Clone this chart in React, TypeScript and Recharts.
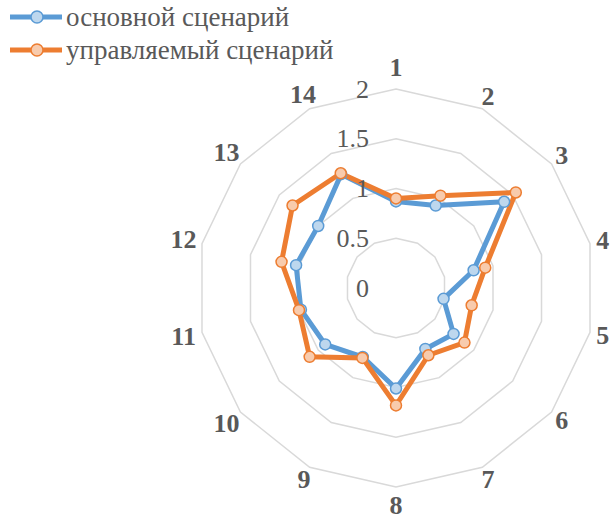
import React from "react";
import {
  RadarChart,
  Radar,
  PolarGrid,
  PolarAngleAxis,
  PolarRadiusAxis,
  Legend,
} from "recharts";

// categories around the circle
const CATEGORIES = ["1", "2", "3", "4", "5", "6", "7", "8", "9", "10", "11", "12", "13", "14"];
// основной сценарий
const BASE = [0.87, 0.92, 1.39, 0.8, 0.49, 0.74, 0.68, 1.01, 0.77, 0.91, 0.98, 1.03, 1.0, 1.27];
// управляемый сценарий
const MANAGED = [0.9, 1.03, 1.54, 0.92, 0.78, 0.88, 0.75, 1.18, 0.78, 1.11, 1.0, 1.18, 1.33, 1.28];
const RADIUS_TICKS = [0, 0.5, 1, 1.5, 2];

const SERIES = [
  { key: "base", name: "основной сценарий", stroke: "#5B9BD5", fill: "#BDD7EE" },
  { key: "managed", name: "управляемый сценарий", stroke: "#ED7D31", fill: "#F8CBAD" },
];

const data = CATEGORIES.map((c, i) => ({ cat: c, base: BASE[i], managed: MANAGED[i] }));

const CX = 396;
const CY = 288;
const R = 199;
const FONT = "Liberation Serif, Times New Roman, DejaVu Serif, serif";
const GRAY = "#595959";

// category labels, pushed out so the box sits just outside the grid
function AngleTick(props: any) {
  const { payload, index } = props;
  const a = (index * 2 * Math.PI) / CATEGORIES.length;
  const s = Math.sin(a);
  const c = Math.cos(a);
  const label = String(payload.value);
  let d = 212;
  if (c > 0.99) d += 9;
  if (c < -0.99) d += 5;
  if (label.length > 1) d += 6 * Math.abs(s);
  return (
    <text
      x={CX + d * s}
      y={CY - d * c}
      textAnchor="middle"
      dominantBaseline="central"
      style={{ fontFamily: FONT, fontSize: 26, fontWeight: "bold", fill: GRAY }}
    >
      {label}
    </text>
  );
}

function RadiusTick(props: any) {
  const { y, payload } = props;
  return (
    <text
      x={CX - 27}
      y={y}
      textAnchor="end"
      dominantBaseline="central"
      style={{ fontFamily: FONT, fontSize: 26, fill: GRAY }}
    >
      {payload.value}
    </text>
  );
}

function LegendBox() {
  return (
    <svg width={360} height={70}>
      {SERIES.map((s, i) => {
        const y = 17 + i * 33;
        return (
          <g key={s.key}>
            <line x1={10} x2={62} y1={y} y2={y} stroke={s.stroke} strokeWidth={5} />
            <circle cx={37} cy={y} r={6} fill={s.fill} stroke={s.stroke} strokeWidth={1.5} />
            <text
              x={66}
              y={y}
              dominantBaseline="central"
              style={{ fontFamily: FONT, fontSize: 27, fill: GRAY }}
            >
              {s.name}
            </text>
          </g>
        );
      })}
    </svg>
  );
}

export default function App() {
  return (
    <div style={{ position: "absolute", left: 0, top: 0, background: "#fff", fontFamily: FONT }}>
      <RadarChart width={612} height={518} data={data} cx={CX} cy={CY} outerRadius={R} startAngle={90} endAngle={-270}>
        <PolarGrid gridType="polygon" radialLines={false} stroke="#d9d9d9" strokeWidth={1.5} />
        <PolarAngleAxis dataKey="cat" tick={AngleTick} tickLine={false} axisLine={false} />
        <PolarRadiusAxis
          angle={90}
          domain={[0, 2]}
          ticks={RADIUS_TICKS}
          tickCount={5}
          tick={RadiusTick}
          axisLine={false}
          tickLine={false}
        />
        {SERIES.map((s) => (
          <Radar
            key={s.key}
            dataKey={s.key}
            name={s.name}
            stroke={s.stroke}
            strokeWidth={5}
            fill="none"
            fillOpacity={0}
            dot={{ r: 5.5, fill: s.fill, stroke: s.stroke, strokeWidth: 1.5, fillOpacity: 1 }}
            isAnimationActive={false}
          />
        ))}
        <Legend
          verticalAlign="top"
          align="left"
          layout="vertical"
          wrapperStyle={{ top: 0, left: 0 }}
          content={() => <LegendBox />}
        />
      </RadarChart>
    </div>
  );
}
